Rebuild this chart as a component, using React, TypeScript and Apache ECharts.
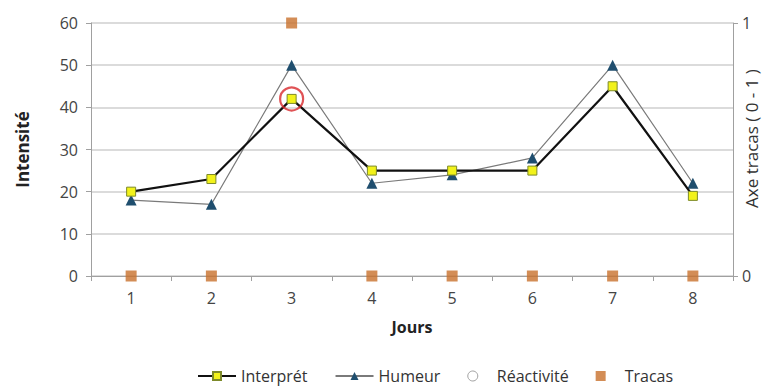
import React, { useEffect, useRef } from "react";
import * as echarts from "echarts";

const days = ["1", "2", "3", "4", "5", "6", "7", "8"];
const interpret = [20, 23, 42, 25, 25, 25, 45, 19];
const humeur = [18, 17, 50, 22, 24, 28, 50, 22];
const reactivite = [null, null, 42, null, null, null, null, null];
const tracas = [0, 0, 1, 0, 0, 0, 0, 0];

const FONT = "'Open Sans', Lato, sans-serif";

export default function App() {
  const ref = useRef<HTMLDivElement>(null);

  useEffect(() => {
    if (!ref.current) return;
    const chart = echarts.init(ref.current, null, { renderer: "svg" });
    chart.setOption({
      animation: false,
      backgroundColor: "#ffffff",
      textStyle: { fontFamily: FONT },
      grid: { left: 91, right: 32, top: 23, bottom: 111, outerBoundsMode: "none" },
      legend: {
        top: 363,
        left: 192,
        itemWidth: 38,
        itemHeight: 10,
        itemGap: 27,
        symbolKeepAspect: true,
        textStyle: { fontFamily: FONT, fontSize: 16, color: "#333" },
        data: [
          { name: "Interprét" },
          { name: "Humeur" },
          {
            name: "Réactivité",
            icon: "circle",
            itemStyle: { color: "#ffffff", borderColor: "#8a8a8a", borderWidth: 1 },
          },
          { name: "Tracas", icon: "path://M0,0h10v10h-10z" },
        ],
      },
      xAxis: {
        type: "category",
        data: days,
        boundaryGap: true,
        name: "Jours",
        nameLocation: "middle",
        nameGap: 43,
        nameMoveOverlap: false,
        nameTextStyle: { fontFamily: FONT, fontSize: 16, fontWeight: "bold", color: "#222" },
        axisLine: { lineStyle: { color: "#a0a0a0" } },
        axisTick: { show: true, length: 5, lineStyle: { color: "#a0a0a0" } },
        axisLabel: { fontFamily: FONT, fontSize: 16, color: "#444", margin: 14 },
      },
      yAxis: [
        {
          type: "value",
          min: 0,
          max: 60,
          interval: 10,
          name: "Intensité",
          nameLocation: "middle",
          nameRotate: 90,
          nameGap: 60,
          nameMoveOverlap: false,
          nameTextStyle: { fontFamily: FONT, fontSize: 17, fontWeight: "bold", color: "#222" },
          axisLine: { show: true, lineStyle: { color: "#a0a0a0" } },
          axisTick: { show: true, length: 5, lineStyle: { color: "#a0a0a0" } },
          axisLabel: { fontFamily: FONT, fontSize: 16, color: "#444", margin: 13 },
          splitLine: { lineStyle: { color: "#cfcfcf", width: 1.5 } },
        },
        {
          type: "value",
          min: 0,
          max: 1,
          interval: 1,
          position: "right",
          name: "Axe tracas ( 0 - 1 )",
          nameLocation: "middle",
          nameRotate: 90,
          nameGap: 10,
          nameMoveOverlap: false,
          nameTextStyle: {
            fontFamily: FONT,
            fontSize: 17,
            color: "#333",
            padding: [0, 0, 0, 22],
          },
          axisLine: { show: true, lineStyle: { color: "#a0a0a0" } },
          axisTick: { show: true, length: 5, lineStyle: { color: "#a0a0a0" } },
          axisLabel: { fontFamily: FONT, fontSize: 16, color: "#444", margin: 9 },
          splitLine: { show: false },
        },
      ],
      series: [
        {
          name: "Humeur",
          type: "line",
          data: humeur,
          symbol: "triangle",
          symbolSize: 11,
          itemStyle: { color: "#1f4e6e" },
          lineStyle: { color: "#7a7a7a", width: 1.2 },
          z: 2,
        },
        {
          name: "Interprét",
          type: "line",
          data: interpret,
          symbol: "rect",
          symbolSize: 9,
          itemStyle: { color: "#f2f21a", borderColor: "#7d8a2a", borderWidth: 1 },
          lineStyle: { color: "#111", width: 2.2 },
          z: 3,
        },
        {
          name: "Réactivité",
          type: "scatter",
          data: reactivite,
          symbol: "circle",
          symbolSize: 23,
          itemStyle: { color: "transparent", borderColor: "#d8282c", borderWidth: 2.2 },
          z: 4,
        },
        {
          name: "Tracas",
          type: "scatter",
          yAxisIndex: 1,
          data: tracas,
          symbol: "rect",
          symbolSize: 11,
          itemStyle: { color: "#c8702c" },
          z: 5,
        },
      ],
    });
    return () => chart.dispose();
  }, []);

  return (
    <div
      ref={ref}
      style={{ position: "fixed", left: 0, top: 0, width: 765, height: 387 }}
    />
  );
}
